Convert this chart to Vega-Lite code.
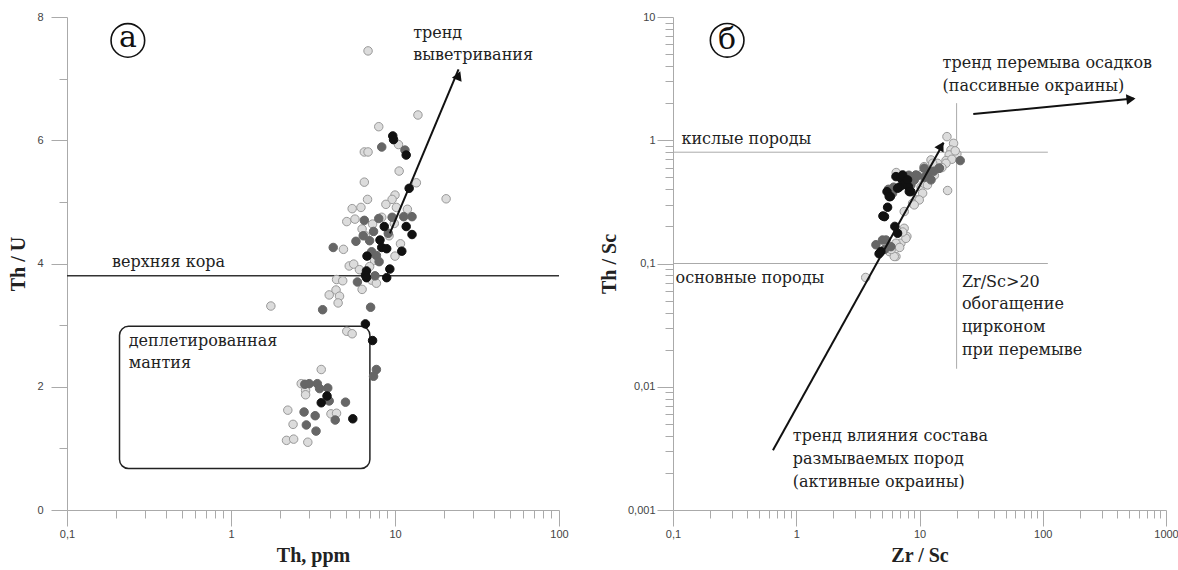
{
  "$schema": "https://vega.github.io/schema/vega-lite/v6.json",
  "background": "white",
  "padding": {"left": 8, "top": 11, "right": 5, "bottom": 5},
  "bounds": "flush",
  "spacing": 114,
  "config": {
    "view": {"stroke": null},
    "axis": {
      "grid": false,
      "domainColor": "#aaaaaa",
      "tickColor": "#aaaaaa",
      "labelFont": "Liberation Sans",
      "labelFontSize": 11,
      "labelColor": "#444444",
      "titleFont": "Liberation Serif",
      "titleFontSize": 20,
      "titleFontWeight": "bold",
      "titleColor": "#222222"
    }
  },
  "datasets": {
    "ptsA": [
      {"x": 6.85, "y": 7.45, "g": "L"}, {"x": 13.8, "y": 6.41, "g": "L"}, {"x": 7.96, "y": 6.22, "g": "L"}, {"x": 10.5, "y": 5.93, "g": "L"},
      {"x": 6.5, "y": 5.81, "g": "L"}, {"x": 6.85, "y": 5.81, "g": "L"}, {"x": 10.6, "y": 5.5, "g": "L"}, {"x": 6.5, "y": 5.32, "g": "L"},
      {"x": 13.5, "y": 5.31, "g": "L"}, {"x": 20.5, "y": 5.05, "g": "L"}, {"x": 6.8, "y": 5.04, "g": "L"}, {"x": 10.0, "y": 5.11, "g": "L"},
      {"x": 9.6, "y": 5.04, "g": "L"}, {"x": 8.8, "y": 4.96, "g": "L"}, {"x": 10.2, "y": 4.91, "g": "L"}, {"x": 5.48, "y": 4.89, "g": "L"},
      {"x": 6.2, "y": 4.91, "g": "L"}, {"x": 11.9, "y": 4.88, "g": "L"}, {"x": 5.08, "y": 4.68, "g": "L"}, {"x": 5.7, "y": 4.72, "g": "L"},
      {"x": 6.3, "y": 4.56, "g": "L"}, {"x": 7.3, "y": 4.64, "g": "L"}, {"x": 9.9, "y": 4.65, "g": "L"}, {"x": 10.8, "y": 4.32, "g": "L"},
      {"x": 4.85, "y": 4.23, "g": "L"}, {"x": 10.0, "y": 4.12, "g": "L"}, {"x": 5.26, "y": 3.96, "g": "L"}, {"x": 5.6, "y": 3.99, "g": "L"},
      {"x": 6.07, "y": 3.9, "g": "L"}, {"x": 7.2, "y": 3.73, "g": "L"}, {"x": 7.7, "y": 3.68, "g": "L"}, {"x": 4.4, "y": 3.74, "g": "L"},
      {"x": 4.8, "y": 3.72, "g": "L"}, {"x": 6.3, "y": 3.58, "g": "L"}, {"x": 4.37, "y": 3.57, "g": "L"}, {"x": 3.97, "y": 3.49, "g": "L"},
      {"x": 4.59, "y": 3.47, "g": "L"}, {"x": 4.5, "y": 3.36, "g": "L"}, {"x": 1.75, "y": 3.31, "g": "L"}, {"x": 5.08, "y": 2.9, "g": "L"},
      {"x": 5.48, "y": 2.86, "g": "L"}, {"x": 6.6, "y": 4.45, "g": "L"}, {"x": 7.5, "y": 4.05, "g": "L"}, {"x": 8.3, "y": 4.75, "g": "L"},
      {"x": 9.2, "y": 4.45, "g": "L"}, {"x": 7.0, "y": 3.95, "g": "L"},
      {"x": 3.55, "y": 2.28, "g": "L"}, {"x": 2.68, "y": 2.05, "g": "L"}, {"x": 2.85, "y": 1.94, "g": "L"}, {"x": 2.85, "y": 1.87, "g": "L"},
      {"x": 2.22, "y": 1.62, "g": "L"}, {"x": 4.07, "y": 1.56, "g": "L"}, {"x": 4.4, "y": 1.57, "g": "L"}, {"x": 2.39, "y": 1.39, "g": "L"},
      {"x": 2.18, "y": 1.13, "g": "L"}, {"x": 2.41, "y": 1.15, "g": "L"}, {"x": 2.94, "y": 1.1, "g": "L"},
      {"x": 8.3, "y": 5.89, "g": "D"}, {"x": 11.5, "y": 5.84, "g": "D"}, {"x": 6.5, "y": 4.7, "g": "D"}, {"x": 7.96, "y": 4.73, "g": "D"},
      {"x": 9.6, "y": 4.75, "g": "D"}, {"x": 11.3, "y": 4.76, "g": "D"}, {"x": 12.7, "y": 4.76, "g": "D"}, {"x": 7.4, "y": 4.52, "g": "D"},
      {"x": 6.4, "y": 4.45, "g": "D"}, {"x": 9.1, "y": 4.49, "g": "D"}, {"x": 7.0, "y": 4.37, "g": "D"}, {"x": 5.78, "y": 4.36, "g": "D"},
      {"x": 4.2, "y": 4.26, "g": "D"}, {"x": 7.2, "y": 4.19, "g": "D"}, {"x": 7.7, "y": 4.13, "g": "D"}, {"x": 8.0, "y": 4.03, "g": "D"},
      {"x": 7.55, "y": 3.8, "g": "D"}, {"x": 5.9, "y": 3.7, "g": "D"}, {"x": 3.62, "y": 3.25, "g": "D"}, {"x": 7.1, "y": 3.29, "g": "D"},
      {"x": 7.7, "y": 2.28, "g": "D"}, {"x": 7.4, "y": 2.17, "g": "D"},
      {"x": 2.82, "y": 2.04, "g": "D"}, {"x": 3.0, "y": 2.05, "g": "D"}, {"x": 3.36, "y": 2.05, "g": "D"}, {"x": 3.89, "y": 1.98, "g": "D"},
      {"x": 3.47, "y": 1.97, "g": "D"}, {"x": 3.97, "y": 1.77, "g": "D"}, {"x": 4.99, "y": 1.75, "g": "D"}, {"x": 2.79, "y": 1.59, "g": "D"},
      {"x": 3.26, "y": 1.53, "g": "D"}, {"x": 4.32, "y": 1.46, "g": "D"}, {"x": 2.88, "y": 1.38, "g": "D"}, {"x": 3.3, "y": 1.28, "g": "D"},
      {"x": 9.69, "y": 6.07, "g": "B"}, {"x": 9.8, "y": 6.01, "g": "B"}, {"x": 11.7, "y": 5.76, "g": "B"}, {"x": 12.2, "y": 5.22, "g": "B"},
      {"x": 8.6, "y": 4.6, "g": "B"}, {"x": 11.7, "y": 4.6, "g": "B"}, {"x": 12.7, "y": 4.47, "g": "B"}, {"x": 8.1, "y": 4.38, "g": "B"},
      {"x": 8.3, "y": 4.26, "g": "B"}, {"x": 8.9, "y": 4.24, "g": "B"}, {"x": 11.0, "y": 4.2, "g": "B"}, {"x": 6.75, "y": 4.12, "g": "B"},
      {"x": 9.3, "y": 3.91, "g": "B"}, {"x": 6.7, "y": 3.88, "g": "B"}, {"x": 6.6, "y": 3.81, "g": "B"}, {"x": 6.7, "y": 3.77, "g": "B"},
      {"x": 8.9, "y": 3.77, "g": "B"}, {"x": 6.6, "y": 3.02, "g": "B"}, {"x": 7.3, "y": 2.75, "g": "B"},
      {"x": 3.85, "y": 1.85, "g": "B"}, {"x": 3.55, "y": 1.74, "g": "B"}, {"x": 5.53, "y": 1.48, "g": "B"}
    ],
    "ptsB": [
      {"x": 16.7, "y": 1.07, "g": "L"}, {"x": 18.9, "y": 0.944, "g": "L"}, {"x": 18.0, "y": 0.834, "g": "L"}, {"x": 20.1, "y": 0.774, "g": "L"},
      {"x": 17.4, "y": 0.76, "g": "L"}, {"x": 16.4, "y": 0.684, "g": "L"}, {"x": 18.3, "y": 0.701, "g": "L"}, {"x": 16.9, "y": 0.391, "g": "L"},
      {"x": 12.4, "y": 0.692, "g": "L"}, {"x": 14.0, "y": 0.65, "g": "L"}, {"x": 11.6, "y": 0.574, "g": "L"}, {"x": 10.4, "y": 0.533, "g": "L"},
      {"x": 10.3, "y": 0.416, "g": "L"}, {"x": 10.9, "y": 0.448, "g": "L"}, {"x": 9.53, "y": 0.328, "g": "L"}, {"x": 8.79, "y": 0.308, "g": "L"},
      {"x": 10.9, "y": 0.611, "g": "L"}, {"x": 12.8, "y": 0.65, "g": "L"}, {"x": 16.4, "y": 0.65, "g": "L"}, {"x": 11.6, "y": 0.434, "g": "L"},
      {"x": 10.6, "y": 0.372, "g": "L"}, {"x": 9.95, "y": 0.328, "g": "L"}, {"x": 9.06, "y": 0.299, "g": "L"}, {"x": 7.52, "y": 0.264, "g": "L"},
      {"x": 6.47, "y": 0.547, "g": "L"}, {"x": 15.2, "y": 0.6, "g": "L"}, {"x": 13.2, "y": 0.52, "g": "L"}, {"x": 19.5, "y": 0.82, "g": "L"},
      {"x": 7.51, "y": 0.193, "g": "L"}, {"x": 7.9, "y": 0.166, "g": "L"}, {"x": 7.06, "y": 0.146, "g": "L"}, {"x": 6.44, "y": 0.114, "g": "L"},
      {"x": 5.69, "y": 0.125, "g": "L"}, {"x": 3.66, "y": 0.077, "g": "L"}, {"x": 7.76, "y": 0.16, "g": "L"}, {"x": 6.44, "y": 0.146, "g": "L"},
      {"x": 6.24, "y": 0.114, "g": "L"}, {"x": 6.9, "y": 0.135, "g": "L"}, {"x": 7.3, "y": 0.18, "g": "L"}, {"x": 5.9, "y": 0.13, "g": "L"},
      {"x": 21.4, "y": 0.684, "g": "D"}, {"x": 14.5, "y": 0.593, "g": "D"}, {"x": 10.9, "y": 0.593, "g": "D"}, {"x": 9.64, "y": 0.514, "g": "D"},
      {"x": 11.6, "y": 0.52, "g": "D"}, {"x": 8.51, "y": 0.434, "g": "D"}, {"x": 9.06, "y": 0.475, "g": "D"}, {"x": 9.35, "y": 0.523, "g": "D"},
      {"x": 12.4, "y": 0.477, "g": "D"}, {"x": 14.4, "y": 0.593, "g": "D"}, {"x": 6.05, "y": 0.372, "g": "D"}, {"x": 6.17, "y": 0.416, "g": "D"},
      {"x": 4.43, "y": 0.142, "g": "D"}, {"x": 5.01, "y": 0.155, "g": "D"}, {"x": 5.35, "y": 0.155, "g": "D"}, {"x": 5.86, "y": 0.137, "g": "D"},
      {"x": 7.8, "y": 0.45, "g": "D"}, {"x": 8.2, "y": 0.52, "g": "D"}, {"x": 11.0, "y": 0.5, "g": "D"}, {"x": 13.0, "y": 0.56, "g": "D"},
      {"x": 5.6, "y": 0.4, "g": "D"}, {"x": 5.2, "y": 0.13, "g": "D"},
      {"x": 6.44, "y": 0.507, "g": "B"}, {"x": 7.06, "y": 0.492, "g": "B"}, {"x": 7.76, "y": 0.477, "g": "B"}, {"x": 8.11, "y": 0.421, "g": "B"},
      {"x": 8.51, "y": 0.383, "g": "B"}, {"x": 7.28, "y": 0.434, "g": "B"}, {"x": 6.85, "y": 0.416, "g": "B"}, {"x": 5.45, "y": 0.383, "g": "B"},
      {"x": 5.8, "y": 0.349, "g": "B"}, {"x": 5.51, "y": 0.286, "g": "B"}, {"x": 5.05, "y": 0.243, "g": "B"}, {"x": 5.2, "y": 0.24, "g": "B"},
      {"x": 6.31, "y": 0.2, "g": "B"}, {"x": 6.64, "y": 0.176, "g": "B"}, {"x": 4.86, "y": 0.125, "g": "B"}, {"x": 4.7, "y": 0.12, "g": "B"},
      {"x": 7.3, "y": 0.523, "g": "B"}, {"x": 8.0, "y": 0.477, "g": "B"}, {"x": 6.64, "y": 0.408, "g": "B"}, {"x": 8.26, "y": 0.383, "g": "B"},
      {"x": 5.68, "y": 0.349, "g": "B"}
    ],
    "linesA": [
      {"id": "crust", "x": 0.1, "y": 3.8}, {"id": "crust", "x": 100, "y": 3.8}
    ],
    "arrowsA": [
      {"id": "a1", "x": 9.3, "y": 4.49}, {"id": "a1", "x": 24.4, "y": 7.15}
    ],
    "headsA": [
      {"x": 24.4, "y": 7.05, "ang": 23}
    ],
    "rectA": [
      {"x": 0.209, "x2": 7.03, "y": 2.98, "y2": 0.673}
    ],
    "textA": [
      {"x": 0.188, "y": 4.03, "t": "верхняя кора"},
      {"x": 0.238, "y": 2.745, "t": "деплетированная"},
      {"x": 0.238, "y": 2.39, "t": "мантия"},
      {"x": 12.9, "y": 7.74, "t": "тренд"},
      {"x": 12.9, "y": 7.39, "t": "выветривания"}
    ],
    "badgeA": [{"x": 0.235, "y": 7.62, "t": "а"}],
    "linesB": [
      {"id": "acid", "x": 0.1, "y": 0.8}, {"id": "acid", "x": 110, "y": 0.8},
      {"id": "basic", "x": 0.1, "y": 0.1}, {"id": "basic", "x": 110, "y": 0.1},
      {"id": "zr", "x": 20, "y": 2}, {"id": "zr", "x": 20, "y": 0.014}
    ],
    "arrowsB": [
      {"id": "b1", "x": 0.647, "y": 0.00305}, {"id": "b1", "x": 15.7, "y": 0.954},
      {"id": "b2", "x": 27.3, "y": 1.63}, {"id": "b2", "x": 546, "y": 2.18}
    ],
    "headsB": [
      {"x": 15.0, "y": 0.9, "ang": 29},
      {"x": 520, "y": 2.16, "ang": 84}
    ],
    "textB": [
      {"x": 0.117, "y": 1.03, "t": "кислые породы"},
      {"x": 0.105, "y": 0.0757, "t": "основные породы"},
      {"x": 22.1, "y": 0.0707, "t": "Zr/Sc>20"},
      {"x": 22.1, "y": 0.0471, "t": "обогащение"},
      {"x": 22.1, "y": 0.0303, "t": "цирконом"},
      {"x": 22.1, "y": 0.0199, "t": "при перемыве"},
      {"x": 15.4, "y": 4.25, "t": "тренд перемыва осадков"},
      {"x": 15.4, "y": 2.77, "t": "(пассивные окраины)"},
      {"x": 0.938, "y": 0.004, "t": "тренд влияния состава"},
      {"x": 0.938, "y": 0.00259, "t": "размываемых пород"},
      {"x": 0.938, "y": 0.00169, "t": "(активные окраины)"}
    ],
    "badgeB": [{"x": 0.275, "y": 6.47, "t": "б"}]
  },
  "hconcat": [
    {
      "width": 492,
      "height": 493,
      "encoding": {
        "x": {
          "field": "x", "type": "quantitative",
          "scale": {"type": "log", "domain": [0.1, 100], "nice": false},
          "axis": {
            "title": "Th, ppm",
            "values": [0.1, 0.2, 0.3, 0.4, 0.5, 0.6, 0.7, 0.8, 0.9, 1, 2, 3, 4, 5, 6, 7, 8, 9, 10, 20, 30, 40, 50, 60, 70, 80, 90, 100],
            "labelExpr": "indexof([0.1, 1, 10, 100], datum.value) >= 0 ? replace('' + datum.value, '.', ',') : ''",
            "tickSize": {"condition": {"test": "indexof([0.1, 1, 10, 100], datum.value) >= 0", "value": 16}, "value": 8},
            "labelPadding": 2,
            "titlePadding": 6,
            "labelFlush": false
          }
        },
        "y": {
          "field": "y", "type": "quantitative",
          "scale": {"domain": [0, 8], "nice": false, "zero": false},
          "axis": {
            "title": "Th / U",
            "values": [0, 1, 2, 3, 4, 5, 6, 7, 8],
            "labelExpr": "datum.value % 2 == 0 ? datum.label : ''",
            "tickSize": {"condition": {"test": "datum.value % 2 == 0", "value": 16}, "value": 8},
            "labelPadding": 8,
            "titlePadding": 8,
            "labelFlush": false
          }
        }
      },
      "layer": [
        {
          "data": {"name": "linesA"},
          "mark": {"type": "line", "color": "#333333", "strokeWidth": 1.5},
          "encoding": {"detail": {"field": "id"}}
        },
        {
          "data": {"name": "rectA"},
          "mark": {"type": "rect", "fillOpacity": 0, "stroke": "#222222", "strokeWidth": 1.5, "cornerRadius": 9},
          "encoding": {"x2": {"field": "x2"}, "y2": {"field": "y2"}}
        },
        {
          "data": {"name": "ptsA"},
          "mark": {"type": "point", "shape": "circle", "filled": true, "size": 72, "strokeWidth": 1, "opacity": 1},
          "encoding": {
            "fill": {"field": "g", "type": "nominal", "scale": {"domain": ["L", "D", "B"], "range": ["#dcdcdc", "#666666", "#111111"]}, "legend": null},
            "stroke": {"field": "g", "type": "nominal", "scale": {"domain": ["L", "D", "B"], "range": ["#999999", "#666666", "#111111"]}, "legend": null}
          }
        },
        {
          "data": {"name": "arrowsA"},
          "mark": {"type": "line", "color": "#111111", "strokeWidth": 2},
          "encoding": {"detail": {"field": "id"}}
        },
        {
          "data": {"name": "headsA"},
          "mark": {"type": "point", "shape": "triangle-up", "filled": true, "color": "#111111", "size": 110, "opacity": 1},
          "encoding": {"angle": {"field": "ang", "type": "quantitative", "scale": null}}
        },
        {
          "data": {"name": "textA"},
          "mark": {"type": "text", "align": "left", "baseline": "middle", "font": "DejaVu Serif", "fontSize": 16, "color": "#222222"},
          "encoding": {"text": {"field": "t"}}
        },
        {
          "data": {"name": "badgeA"},
          "mark": {"type": "point", "shape": "circle", "filled": false, "size": 1130, "stroke": "#111111", "strokeWidth": 1.6, "opacity": 1},
          "encoding": {}
        },
        {
          "data": {"name": "badgeA"},
          "mark": {"type": "text", "align": "center", "baseline": "middle", "dy": -2, "font": "DejaVu Serif", "fontSize": 30, "color": "#111111"},
          "encoding": {"text": {"field": "t"}}
        }
      ]
    },
    {
      "width": 493,
      "height": 493,
      "encoding": {
        "x": {
          "field": "x", "type": "quantitative",
          "scale": {"type": "log", "domain": [0.1, 1000], "nice": false},
          "axis": {
            "title": "Zr / Sc",
            "values": [0.1, 0.2, 0.3, 0.4, 0.5, 0.6, 0.7, 0.8, 0.9, 1, 2, 3, 4, 5, 6, 7, 8, 9, 10, 20, 30, 40, 50, 60, 70, 80, 90, 100, 200, 300, 400, 500, 600, 700, 800, 900, 1000],
            "labelExpr": "indexof([0.1, 1, 10, 100, 1000], datum.value) >= 0 ? replace('' + datum.value, '.', ',') : ''",
            "tickSize": {"condition": {"test": "indexof([0.1, 1, 10, 100, 1000], datum.value) >= 0", "value": 16}, "value": 8},
            "labelPadding": 2,
            "titlePadding": 6,
            "labelFlush": false
          }
        },
        "y": {
          "field": "y", "type": "quantitative",
          "scale": {"type": "log", "domain": [0.001, 10], "nice": false},
          "axis": {
            "title": "Th / Sc",
            "values": [0.001, 0.002, 0.003, 0.004, 0.005, 0.006, 0.007, 0.008, 0.009, 0.01, 0.02, 0.03, 0.04, 0.05, 0.06, 0.07, 0.08, 0.09, 0.1, 0.2, 0.3, 0.4, 0.5, 0.6, 0.7, 0.8, 0.9, 1, 2, 3, 4, 5, 6, 7, 8, 9, 10],
            "labelExpr": "indexof([0.001, 0.01, 0.1, 1, 10], datum.value) >= 0 ? replace('' + datum.value, '.', ',') : ''",
            "tickSize": {"condition": {"test": "indexof([0.001, 0.01, 0.1, 1, 10], datum.value) >= 0", "value": 16}, "value": 8},
            "labelPadding": 2,
            "titlePadding": 8,
            "labelFlush": false
          }
        }
      },
      "layer": [
        {
          "data": {"name": "linesB"},
          "mark": {"type": "line", "color": "#aaaaaa", "strokeWidth": 1},
          "encoding": {"detail": {"field": "id"}}
        },
        {
          "data": {"name": "ptsB"},
          "mark": {"type": "point", "shape": "circle", "filled": true, "size": 72, "strokeWidth": 1, "opacity": 1},
          "encoding": {
            "fill": {"field": "g", "type": "nominal", "scale": {"domain": ["L", "D", "B"], "range": ["#dcdcdc", "#666666", "#111111"]}, "legend": null},
            "stroke": {"field": "g", "type": "nominal", "scale": {"domain": ["L", "D", "B"], "range": ["#999999", "#666666", "#111111"]}, "legend": null}
          }
        },
        {
          "data": {"name": "arrowsB"},
          "mark": {"type": "line", "color": "#111111", "strokeWidth": 2},
          "encoding": {"detail": {"field": "id"}}
        },
        {
          "data": {"name": "headsB"},
          "mark": {"type": "point", "shape": "triangle-up", "filled": true, "color": "#111111", "size": 110, "opacity": 1},
          "encoding": {"angle": {"field": "ang", "type": "quantitative", "scale": null}}
        },
        {
          "data": {"name": "textB"},
          "mark": {"type": "text", "align": "left", "baseline": "middle", "font": "DejaVu Serif", "fontSize": 16, "color": "#222222"},
          "encoding": {"text": {"field": "t"}}
        },
        {
          "data": {"name": "badgeB"},
          "mark": {"type": "point", "shape": "circle", "filled": false, "size": 1130, "stroke": "#111111", "strokeWidth": 1.6, "opacity": 1},
          "encoding": {}
        },
        {
          "data": {"name": "badgeB"},
          "mark": {"type": "text", "align": "center", "baseline": "middle", "dy": 0, "font": "DejaVu Serif", "fontSize": 30, "color": "#111111"},
          "encoding": {"text": {"field": "t"}}
        }
      ]
    }
  ]
}
